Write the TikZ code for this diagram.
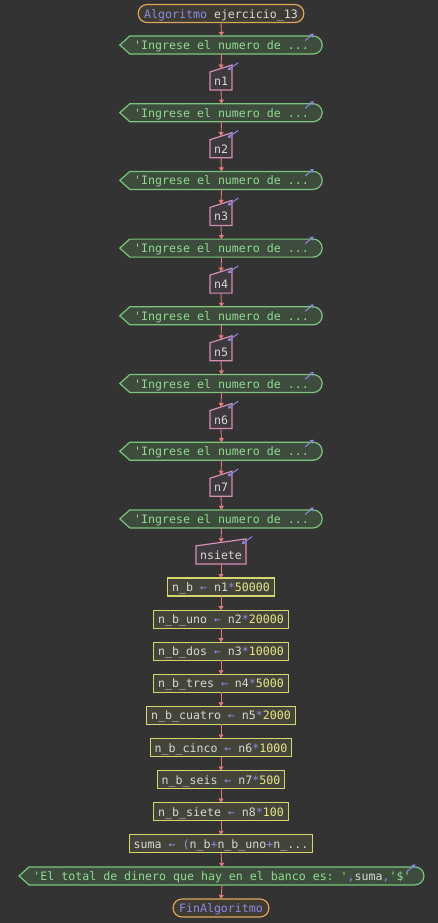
\documentclass[tikz,border=0pt]{standalone}
\usepackage{fontspec}
\newfontfamily\codefont{DejaVu Sans Mono}
\usetikzlibrary{arrows.meta,backgrounds,calc}

\definecolor{canvas}{HTML}{333333}
\definecolor{flowred}{HTML}{E07A7A}
\definecolor{keyblue}{HTML}{8A8AE6}
\definecolor{plain}{HTML}{D8D8D8}
\definecolor{strgreen}{HTML}{8FDB8F}
\definecolor{numyellow}{HTML}{E6E68A}
\definecolor{termline}{HTML}{DCA858}
\definecolor{termfill}{HTML}{3F3B34}
\definecolor{displine}{HTML}{7CC47C}
\definecolor{dispfill}{HTML}{3E4C3E}
\definecolor{inpline}{HTML}{D48FB4}
\definecolor{inpfill}{HTML}{3E393C}
\definecolor{asgline}{HTML}{D6D66E}
\definecolor{asgfill}{HTML}{45443A}

% syntax colouring
\newcommand\kwd[1]{\textcolor{keyblue}{#1}}
\newcommand\opr[1]{\textcolor{keyblue}{#1}}
\newcommand\numv[1]{\textcolor{numyellow}{#1}}
\newcommand\strg[1]{\textcolor{strgreen}{#1}}
\newcommand\asg[3]{#1 \opr{←} #2\opr{*}\numv{#3}}

% outline of a display (output) block: pointed left end, round right end
\newcommand\dispshape[1]{%
  \path[draw=displine,fill=dispfill,line width=1.2bp]
    ([xshift=-10bp]#1.west) -- (#1.north west) -- (#1.north east)
    arc[start angle=90,end angle=-90,radius=9bp]
    -- (#1.south west) -- cycle;}
% outline of a keyboard (input) block: slanted top edge
\newcommand\inpshape[1]{%
  \path[draw=inpline,fill=inpfill,line width=1.2bp]
    (#1.south west) -- (#1.north west) -- ([yshift=7bp]#1.north east)
    -- (#1.south east) -- cycle;}

\begin{document}
\frenchspacing
\begin{tikzpicture}[x=1bp,y=1bp,
  font=\codefont\fontsize{11.6bp}{14bp}\selectfont,
  base/.style={inner ysep=0pt, minimum height=18bp, outer sep=0pt,
    text height=9bp, text depth=0bp, text=plain, line width=1.2bp},
  term/.style={base, draw=termline, fill=termfill, rounded corners=8.9bp, inner xsep=6bp},
  disp/.style={base, inner xsep=4.4bp, text=strgreen},
  inp/.style={base, inner xsep=4bp},
  assign/.style={base, draw=asgline, fill=asgfill, inner xsep=4.5bp},
  flow/.style={draw=flowred, line width=0.9bp, -{Triangle[length=4bp,width=5bp]}},
  icon/.style={draw=keyblue, line width=1bp, -{Stealth[length=3.8bp,width=4.5bp]}}
]
\useasboundingbox (0,0) rectangle (438,-923);

% begin
\node[term] (start) at (221,-13.5) {\kwd{Algoritmo} ejercicio\_13};

% prompts and reads
\foreach \k/\v in {1/n1,2/n2,3/n3,4/n4,5/n5,6/n6,7/n7,8/nsiete}{
  \node[disp] (o\k) at (221.5,{-45-67.7*(\k-1)}) {'Ingrese el numero de ...};
  \node[inp] (i\k) at (221,{-81-67.7*(\k-1)}) {\v};
  \coordinate (t\k) at ($(i\k.north)+(0,3.5bp)$);
}

% assignments
\node[assign] (a0) at (221,-587.0) {\asg{n\_b}{n1}{50000}};
\node[assign] (a1) at (221,-619.1) {\asg{n\_b\_uno}{n2}{20000}};
\node[assign] (a2) at (221,-651.2) {\asg{n\_b\_dos}{n3}{10000}};
\node[assign] (a3) at (221,-683.3) {\asg{n\_b\_tres}{n4}{5000}};
\node[assign] (a4) at (221,-715.4) {\asg{n\_b\_cuatro}{n5}{2000}};
\node[assign] (a5) at (221,-747.5) {\asg{n\_b\_cinco}{n6}{1000}};
\node[assign] (a6) at (221,-779.6) {\asg{n\_b\_seis}{n7}{500}};
\node[assign] (a7) at (221,-811.7) {\asg{n\_b\_siete}{n8}{100}};
\node[assign] (a8) at (221,-843.8) {suma \opr{←} \opr{(}n\_b\opr{+}n\_b\_uno\opr{+}n\_...};

% final message and end
\node[disp] (out) at (222,-875.9) {'El total de dinero que hay en el banco es: '\opr{,}\textcolor{plain}{suma}\opr{,}'\$'};
\node[term] (stop) at (221,-908) {\kwd{FinAlgoritmo}};

% block outlines behind the texts
\begin{scope}[on background layer]
  \fill[canvas] (0,0) rectangle (438,-923);
  \foreach \k in {1,...,8}{\dispshape{o\k}\inpshape{i\k}}
  \dispshape{out}
\end{scope}

% corner icons
\foreach \n in {o1,o2,o3,o4,o5,o6,o7,o8,out}{
  \draw[icon] ([xshift=-8bp,yshift=-4.5bp]\n.north east) -- ([xshift=0.5bp,yshift=2.5bp]\n.north east);
}
\foreach \k in {1,...,8}{
  \draw[icon] ([xshift=6.3bp,yshift=9.3bp]i\k.north east) -- ([xshift=-4.3bp,yshift=2bp]i\k.north east);
}

% flow
\draw[flow] (start.south) -- (o1.north);
\foreach \k in {1,...,8}{\draw[flow] (o\k.south) -- (t\k);}
\foreach \k [evaluate=\k as \nx using int(\k+1)] in {1,...,7}{\draw[flow] (i\k.south) -- (o\nx.north);}
\draw[flow] (i8.south) -- (a0.north);
\foreach \k [evaluate=\k as \nx using int(\k+1)] in {0,...,7}{\draw[flow] (a\k.south) -- (a\nx.north);}
\draw[flow] (a8.south) -- (out.north);
\draw[flow] (out.south) -- (stop.north);
\end{tikzpicture}
\end{document}
